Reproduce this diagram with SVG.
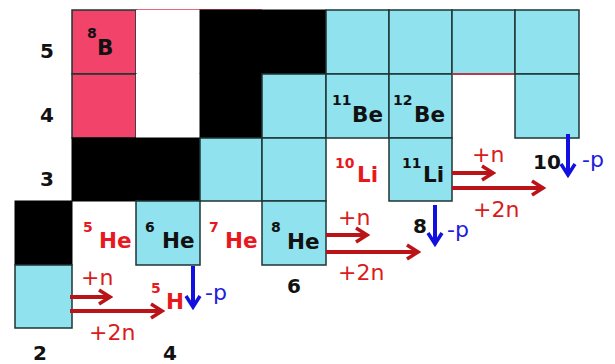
<svg xmlns="http://www.w3.org/2000/svg" width="615" height="364" viewBox="0 0 615 364">
<style>
.cy{fill:#8fe2ee;stroke:#1e3434;stroke-width:1.5}
.pk{fill:#f2436a;stroke:#1e3434;stroke-width:1.5}
.bk{fill:#000;stroke:#000;stroke-width:1}
.wh{fill:#fff;stroke:none}
.el{font-family:"DejaVu Sans","Liberation Sans",sans-serif;font-weight:bold;font-size:21.5px}
.sup{font-family:"DejaVu Sans","Liberation Sans",sans-serif;font-weight:bold;font-size:14px}
.blk{fill:#111}
.red{fill:#e8191e}
.ax{font-family:"DejaVu Sans","Liberation Sans",sans-serif;font-weight:bold;font-size:20px;fill:#111;text-anchor:middle}
.rx{font-family:"DejaVu Sans",sans-serif;font-size:22px;fill:#d81c20}
.bx{font-family:"DejaVu Sans",sans-serif;font-size:22px;fill:#2020d8}
.ra{stroke:#bb1418;stroke-width:4;fill:none}
.ba{stroke:#1010e0;stroke-width:4;fill:none}
</style>
<defs>
<marker id="hr" markerUnits="userSpaceOnUse" markerWidth="16" markerHeight="18" viewBox="0 0 16 18" refX="13" refY="9" orient="auto">
<path d="M2,2 L13,9 L2,16" fill="none" stroke="#bb1418" stroke-width="3.5"/>
</marker>
<marker id="hb" markerUnits="userSpaceOnUse" markerWidth="16" markerHeight="18" viewBox="0 0 16 18" refX="13" refY="9" orient="auto">
<path d="M2,2 L13,9 L2,16" fill="none" stroke="#1010e0" stroke-width="3.5"/>
</marker>
</defs>
<rect width="615" height="364" fill="#fff"/>
<line x1="136" y1="10" x2="262" y2="10" stroke="#e83050" stroke-width="1.5"/>
<!-- Z=5 row -->
<g id="B8"><rect class="pk" x="72" y="10" width="64" height="64"/><text class="blk"><tspan class="sup" x="87" y="38">8</tspan><tspan class="el" x="97" y="55">B</tspan></text></g>
<g id="B9"><rect class="wh" x="136" y="10" width="64" height="64"/></g>
<g id="B10-11"><rect class="bk" x="200" y="10" width="126" height="64"/></g>
<g id="B12"><rect class="cy" x="326" y="10" width="63" height="64"/></g>
<g id="B13"><rect class="cy" x="389" y="10" width="63" height="64"/></g>
<g id="B14"><rect class="cy" x="452" y="10" width="63" height="64"/></g>
<g id="B15"><rect class="cy" x="515" y="10" width="64" height="64"/></g>
<!-- Z=4 row -->
<g id="Be7"><rect class="pk" x="72" y="74" width="64" height="64"/></g>
<g id="Be8"><rect class="wh" x="136" y="74" width="64" height="64"/></g>
<g id="Be9"><rect class="bk" x="200" y="74" width="62" height="64"/></g>
<g id="Be10"><rect class="cy" x="262" y="74" width="64" height="64"/></g>
<g id="Be11"><rect class="cy" x="326" y="74" width="63" height="64"/><text class="blk"><tspan class="sup" x="332" y="105">11</tspan><tspan class="el" x="352" y="122">Be</tspan></text></g>
<g id="Be12"><rect class="cy" x="389" y="74" width="63" height="64"/><text class="blk"><tspan class="sup" x="393" y="105">12</tspan><tspan class="el" x="414" y="122">Be</tspan></text></g>
<g id="Be13"><line x1="452" y1="74" x2="515" y2="74" stroke="#d83040" stroke-width="1.5"/></g>
<g id="Be14"><rect class="cy" x="515" y="74" width="64" height="64"/></g>
<!-- Z=3 row -->
<g id="Li6-7"><rect class="bk" x="72" y="138" width="128" height="63"/></g>
<g id="Li8"><rect class="cy" x="200" y="138" width="62" height="63"/></g>
<g id="Li9"><rect class="cy" x="262" y="138" width="64" height="63"/></g>
<g id="Li10"><text class="red"><tspan class="sup" x="335" y="168">10</tspan><tspan class="el" x="357" y="182">Li</tspan></text></g>
<g id="Li11"><rect class="cy" x="389" y="138" width="63" height="63"/><text class="blk"><tspan class="sup" x="402" y="168">11</tspan><tspan class="el" x="423" y="182">Li</tspan></text></g>
<!-- Z=2 row -->
<g id="He4"><rect class="bk" x="15" y="201" width="57" height="64"/></g>
<g id="He5"><text class="red"><tspan class="sup" x="83" y="232">5</tspan><tspan class="el" x="99" y="248">He</tspan></text></g>
<g id="He6"><rect class="cy" x="136" y="201" width="64" height="64"/><text class="blk"><tspan class="sup" x="145" y="232">6</tspan><tspan class="el" x="162" y="248">He</tspan></text></g>
<g id="He7"><text class="red"><tspan class="sup" x="209" y="232">7</tspan><tspan class="el" x="225" y="248">He</tspan></text></g>
<g id="He8"><rect class="cy" x="262" y="201" width="64" height="64"/><text class="blk"><tspan class="sup" x="271" y="232">8</tspan><tspan class="el" x="287" y="249">He</tspan></text></g>
<!-- Z=1 row -->
<g id="H3"><rect class="cy" x="15" y="265" width="57" height="63"/></g>
<g id="H5"><text class="red"><tspan class="sup" x="151" y="293">5</tspan><tspan class="el" x="166" y="309">H</tspan></text></g>
<!-- axis labels -->
<g id="axes">
<text class="ax" x="47" y="58">5</text>
<text class="ax" x="47" y="122">4</text>
<text class="ax" x="47" y="186">3</text>
<text class="ax" x="40" y="360">2</text>
<text class="ax" x="170" y="360">4</text>
<text class="ax" x="294" y="293">6</text>
<text class="ax" x="420" y="233">8</text>
<text class="ax" x="547" y="169">10</text>
</g>
<!-- connectors -->
<g id="connectors">
<line class="ra" x1="70" y1="297" x2="110" y2="297" marker-end="url(#hr)"/>
<line class="ra" x1="70" y1="311" x2="162" y2="311" marker-end="url(#hr)"/>
<line class="ra" x1="326" y1="235" x2="367" y2="235" marker-end="url(#hr)"/>
<line class="ra" x1="326" y1="252" x2="418" y2="252" marker-end="url(#hr)"/>
<line class="ra" x1="452" y1="173" x2="493" y2="173" marker-end="url(#hr)"/>
<line class="ra" x1="452" y1="188" x2="543" y2="188" marker-end="url(#hr)"/>
<line class="ba" x1="193" y1="266" x2="193" y2="307" marker-end="url(#hb)"/>
<line class="ba" x1="435" y1="205" x2="435" y2="244" marker-end="url(#hb)"/>
<line class="ba" x1="568" y1="134" x2="568" y2="175" marker-end="url(#hb)"/>
<text class="rx" x="81" y="285">+n</text>
<text class="rx" x="89" y="340">+2n</text>
<text class="rx" x="338" y="225">+n</text>
<text class="rx" x="338" y="280">+2n</text>
<text class="rx" x="472" y="162">+n</text>
<text class="rx" x="473" y="217">+2n</text>
<text class="bx" x="205" y="300">-p</text>
<text class="bx" x="447" y="237">-p</text>
<text class="bx" x="582" y="167">-p</text>
</g>
</svg>
